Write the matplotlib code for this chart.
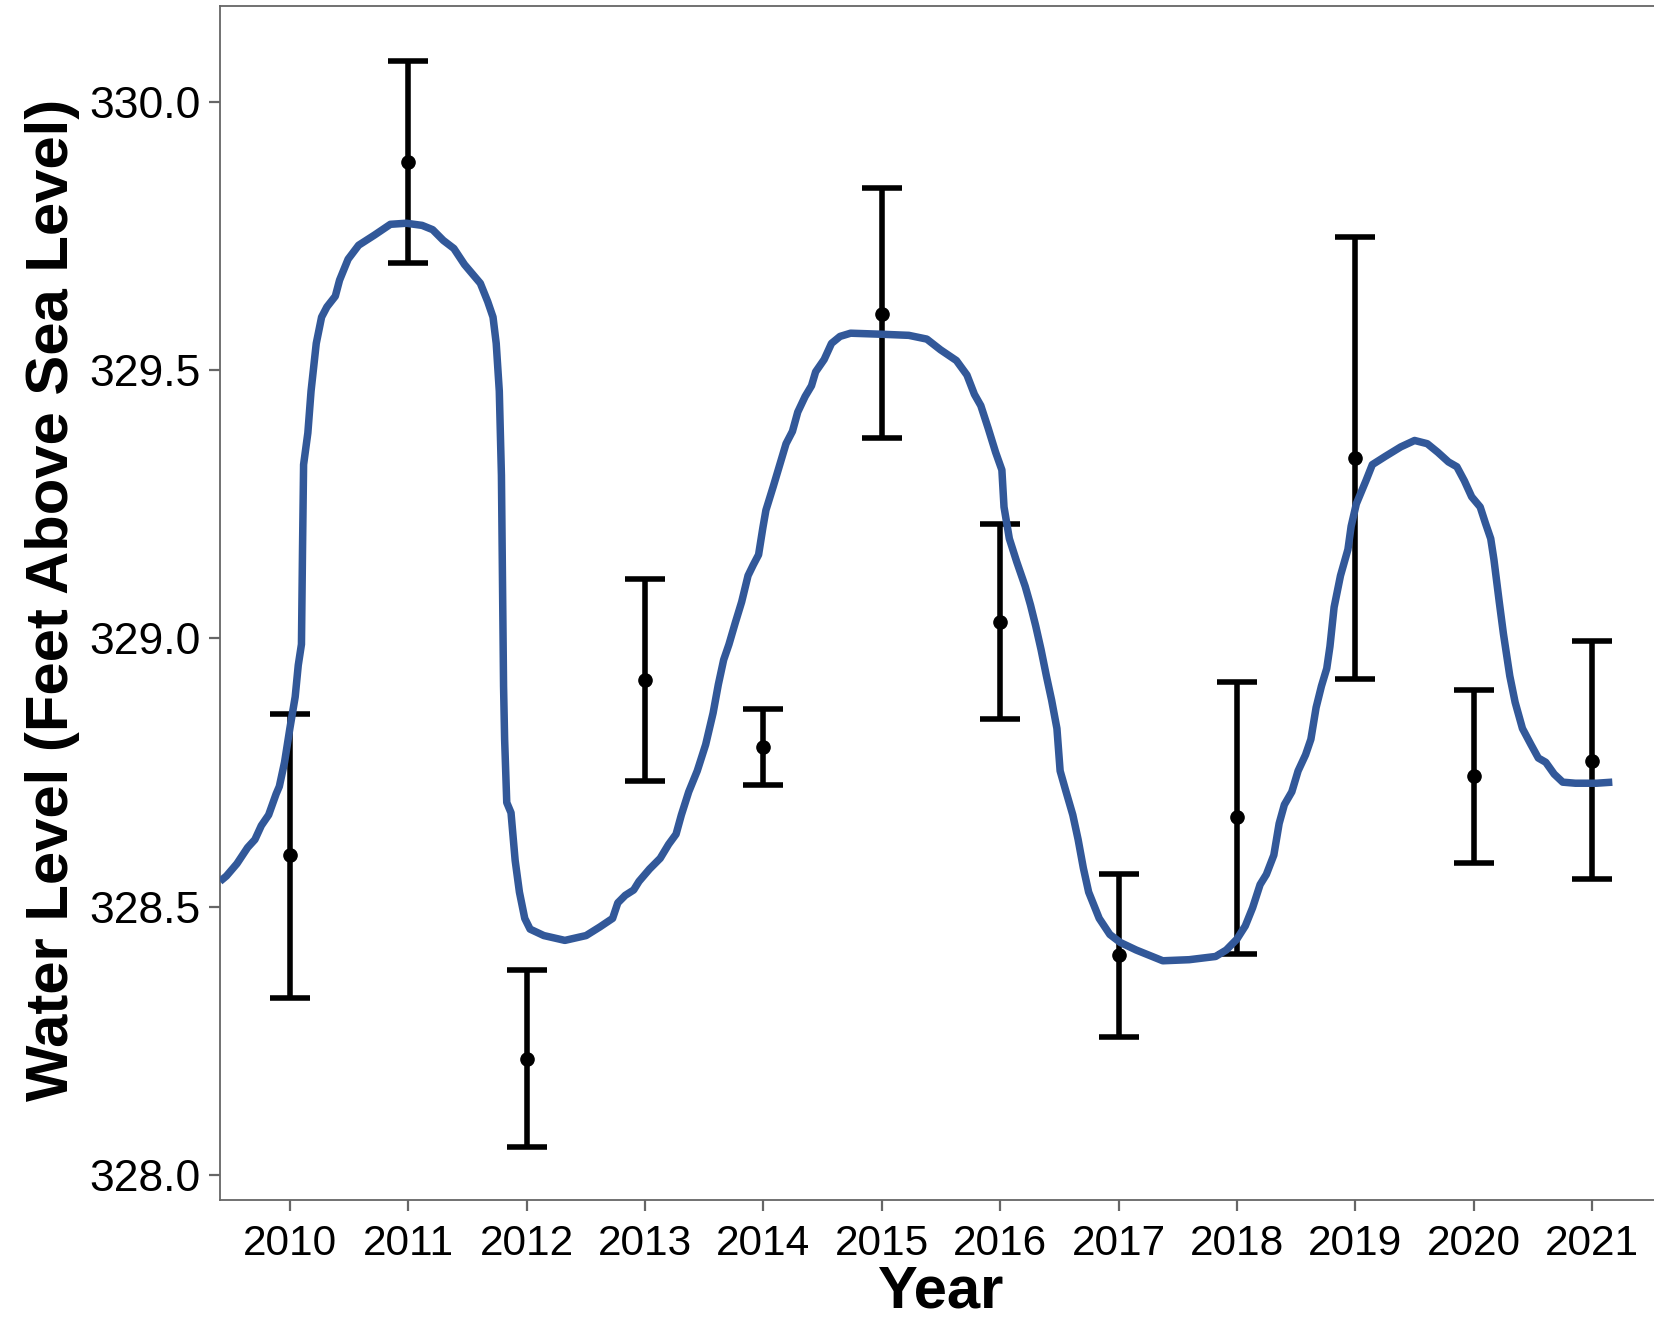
import matplotlib
matplotlib.use("Agg")
import matplotlib.pyplot as plt

# ---- data ----
years = [2010, 2011, 2012, 2013, 2014, 2015, 2016, 2017, 2018, 2019, 2020, 2021]
mean_level = [328.596, 329.888, 328.216, 328.922, 328.798, 329.605,
              329.030, 328.409, 328.667, 329.337, 328.743, 328.771]
upper_level = [328.859, 330.077, 328.382, 329.111, 328.869, 329.839,
               329.213, 328.560, 328.918, 329.748, 328.903, 328.995]
lower_level = [328.330, 329.699, 328.051, 328.734, 328.726, 329.373,
               328.850, 328.256, 328.411, 328.924, 328.582, 328.551]

smooth_x = [2009.41, 2009.464, 2009.553, 2009.643, 2009.705, 2009.759, 2009.821, 2009.884,
            2009.911, 2009.955, 2010.0, 2010.045, 2010.071, 2010.098, 2010.107, 2010.116,
            2010.152, 2010.179, 2010.223, 2010.268, 2010.313, 2010.384, 2010.420, 2010.492,
            2010.581, 2010.715, 2010.849, 2010.983, 2011.117, 2011.206, 2011.296, 2011.385,
            2011.475, 2011.609, 2011.671, 2011.716, 2011.743, 2011.769, 2011.787, 2011.796,
            2011.805, 2011.814, 2011.832, 2011.868, 2011.903, 2011.939, 2011.984, 2012.029,
            2012.145, 2012.323, 2012.502, 2012.618, 2012.726, 2012.770, 2012.833, 2012.904,
            2012.949, 2013.038, 2013.128, 2013.199, 2013.262, 2013.307, 2013.369, 2013.441,
            2013.512, 2013.575, 2013.619, 2013.664, 2013.709, 2013.762, 2013.816, 2013.870,
            2013.914, 2013.959, 2013.995, 2014.021, 2014.084, 2014.138, 2014.191, 2014.245,
            2014.290, 2014.352, 2014.406, 2014.441, 2014.513, 2014.575, 2014.647, 2014.736,
            2015.004, 2015.228, 2015.380, 2015.496, 2015.630, 2015.719, 2015.782, 2015.836,
            2015.898, 2015.961, 2016.014, 2016.032, 2016.077, 2016.139, 2016.211, 2016.256,
            2016.300, 2016.345, 2016.390, 2016.434, 2016.479, 2016.506, 2016.551, 2016.613,
            2016.658, 2016.702, 2016.747, 2016.836, 2016.926, 2017.015, 2017.149, 2017.373,
            2017.596, 2017.819, 2017.909, 2017.998, 2018.070, 2018.132, 2018.195, 2018.248,
            2018.311, 2018.356, 2018.400, 2018.463, 2018.516, 2018.579, 2018.624, 2018.668,
            2018.713, 2018.758, 2018.785, 2018.820, 2018.874, 2018.937, 2018.964, 2019.008,
            2019.089, 2019.143, 2019.250, 2019.383, 2019.500, 2019.607, 2019.696, 2019.786,
            2019.857, 2019.920, 2019.982, 2020.054, 2020.098, 2020.143, 2020.170, 2020.215,
            2020.250, 2020.304, 2020.349, 2020.411, 2020.483, 2020.545, 2020.608, 2020.679,
            2020.751, 2020.858, 2021.036, 2021.170]
smooth_y = [328.547, 328.557, 328.580, 328.610, 328.625, 328.651, 328.671, 328.710,
            328.724, 328.769, 328.832, 328.891, 328.950, 328.989, 329.166, 329.324,
            329.383, 329.461, 329.550, 329.599, 329.618, 329.638, 329.668, 329.707,
            329.733, 329.752, 329.772, 329.774, 329.770, 329.762, 329.742, 329.727,
            329.697, 329.662, 329.628, 329.599, 329.550, 329.461, 329.304, 329.107,
            328.911, 328.812, 328.694, 328.675, 328.586, 328.527, 328.478, 328.458,
            328.446, 328.437, 328.446, 328.462, 328.478, 328.507, 328.521, 328.531,
            328.547, 328.570, 328.590, 328.616, 328.635, 328.671, 328.714, 328.753,
            328.802, 328.861, 328.914, 328.960, 328.989, 329.029, 329.068, 329.117,
            329.137, 329.156, 329.206, 329.239, 329.284, 329.324, 329.363, 329.386,
            329.422, 329.451, 329.471, 329.497, 329.520, 329.550, 329.563, 329.569,
            329.567, 329.565, 329.558, 329.538, 329.518, 329.491, 329.455, 329.434,
            329.392, 329.347, 329.314, 329.245, 329.186, 329.143, 329.097, 329.062,
            329.023, 328.979, 328.930, 328.885, 328.832, 328.753, 328.718, 328.671,
            328.625, 328.572, 328.527, 328.478, 328.448, 328.433, 328.419, 328.399,
            328.401, 328.407, 328.419, 328.439, 328.464, 328.498, 328.541, 328.560,
            328.596, 328.655, 328.690, 328.714, 328.753, 328.783, 328.812, 328.871,
            328.911, 328.944, 328.985, 329.058, 329.117, 329.166, 329.209, 329.251,
            329.294, 329.324, 329.339, 329.357, 329.369, 329.363, 329.347, 329.329,
            329.320, 329.294, 329.264, 329.245, 329.215, 329.186, 329.147, 329.068,
            329.009, 328.930, 328.881, 328.832, 328.802, 328.777, 328.769, 328.747,
            328.732, 328.730, 328.730, 328.732]

y_ticks = [328.0, 328.5, 329.0, 329.5, 330.0]
y_tick_labels = ["328.0", "328.5", "329.0", "329.5", "330.0"]
x_label = "Year"
y_label = "Water Level (Feet Above Sea Level)"

# ---- figure ----
plt.rcParams['font.family'] = ['Liberation Sans', 'DejaVu Sans']
fig = plt.figure(figsize=(16.54, 13.19), dpi=100)
ax = fig.add_axes([220 / 1654, (1319 - 1200) / 1319, 1.002 - 220 / 1654, (1200 - 6) / 1319])

ax.plot(smooth_x, smooth_y, color='#325899', lw=5.4, solid_capstyle='butt',
        solid_joinstyle='round', zorder=3)

yerr_low = [m - l for m, l in zip(mean_level, lower_level)]
yerr_high = [u - m for m, u in zip(mean_level, upper_level)]
ax.errorbar(years, mean_level, yerr=[yerr_low, yerr_high], fmt='o', color='black',
            ms=9.5, elinewidth=4.0, capsize=14.5, capthick=4.0, zorder=2)

ax.set_xlim(2009.41, 2021.55)
ax.set_ylim(327.953, 330.179)
ax.set_xticks(years)
ax.set_xticklabels([str(y) for y in years])
ax.set_yticks(y_ticks)
ax.set_yticklabels(y_tick_labels)

for side in ['left', 'bottom', 'top']:
    ax.spines[side].set_color('#666666')
    ax.spines[side].set_linewidth(1.3)
ax.spines['right'].set_visible(False)

ax.tick_params(axis='both', direction='out', length=8, width=1.6, color='#666666',
               labelcolor='black')
ax.tick_params(axis='x', labelsize=30.5, pad=9)
ax.tick_params(axis='y', labelsize=32, pad=6)

fig.text(940 / 1654, 1 - 1308 / 1319, x_label, ha='center', va='baseline',
         fontsize=43, fontweight='bold')
fig.text(68.5 / 1654, 1 - 600 / 1319, y_label, ha='center', va='baseline',
         rotation=90, rotation_mode='anchor', fontsize=43, fontweight='bold')

fig.savefig('out.png', dpi=100)
